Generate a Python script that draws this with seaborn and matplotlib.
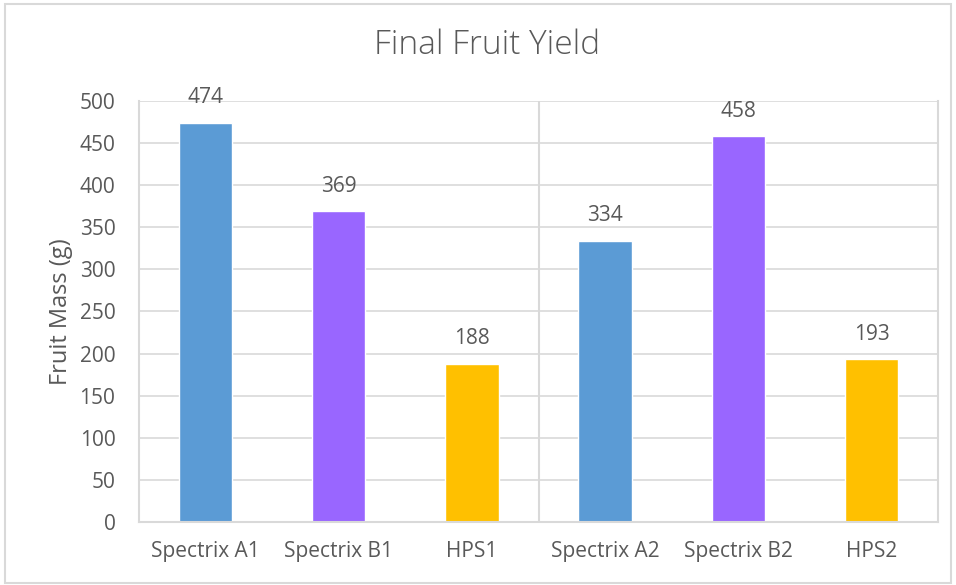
import matplotlib
matplotlib.use("Agg")
import matplotlib.pyplot as plt
import matplotlib.patches as mpatches
import seaborn as sns

# chart data
categories = ["Spectrix A1", "Spectrix B1", "HPS1", "Spectrix A2", "Spectrix B2", "HPS2"]
fruit_mass = [474, 369, 188, 334, 458, 193]
bar_colors = ["#5B9BD5", "#9966FF", "#FFC000", "#5B9BD5", "#9966FF", "#FFC000"]
y_ticks = [0, 50, 100, 150, 200, 250, 300, 350, 400, 450, 500]

sns.set_style("white")
plt.rcParams["font.family"] = ["Open Sans", "DejaVu Sans"]
text_color = "#595959"
grid_color = "#D9D9D9"

fig = plt.figure(figsize=(9.56, 5.85), dpi=100)
ax = fig.add_axes([0.1454, 0.1077, 0.8358, 0.7197])

sns.barplot(x=categories, y=fruit_mass, hue=categories, palette=bar_colors,
            width=0.4, legend=False, saturation=1, ax=ax)

ax.set_ylim(0, 500)
ax.set_yticks(y_ticks)
ax.set_xlim(-0.5, len(categories) - 0.5)
ax.yaxis.grid(True, color=grid_color, linewidth=1.2)
ax.set_axisbelow(True)

# separator between the two runs
ax.axvline(len(categories) / 2 - 0.5, color=grid_color, linewidth=1.5, zorder=0)

for side in ["left", "right", "bottom"]:
    ax.spines[side].set_color(grid_color)
    ax.spines[side].set_linewidth(1.5)
ax.spines["top"].set_visible(False)

ax.tick_params(axis="both", length=0, labelsize=15, colors=text_color)
ax.tick_params(axis="y", pad=17)
ax.tick_params(axis="x", pad=14)
ax.set_xlabel("")
ax.set_ylabel("Fruit Mass (g)", fontsize=17, color=text_color, labelpad=5)

for i, v in enumerate(fruit_mass):
    ax.annotate(str(v), (i, v), xytext=(0, 18), textcoords="offset points",
                ha="center", va="center", fontsize=15, color=text_color)

fig.text(0.509, 0.923, "Final Fruit Yield", ha="center", va="center",
         fontsize=24, color=text_color, fontweight="light")

# outer chart border
fig.patches.append(mpatches.Rectangle((0.005, 0.004), 0.99, 0.99, transform=fig.transFigure,
                                      fill=False, edgecolor=grid_color, linewidth=1.5))

fig.savefig("out.png", dpi=100)
